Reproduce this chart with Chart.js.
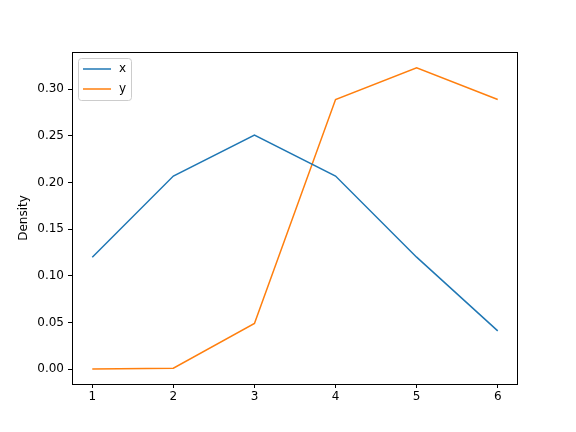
<!DOCTYPE html>
<html>
<head>
<meta charset="utf-8">
<script src="https://cdn.jsdelivr.net/npm/chart.js@4"></script>
<style>
  html, body { margin: 0; padding: 0; background: #fff; }
</style>
</head>
<body>
<canvas id="myChart" width="576" height="432"></canvas>
<script>
var categories = [1, 2, 3, 4, 5, 6];
var xValues = [0.120, 0.207, 0.251, 0.207, 0.120, 0.041];
var yValues = [0.000, 0.001, 0.049, 0.289, 0.323, 0.289];
var yTicks = [0.00, 0.05, 0.10, 0.15, 0.20, 0.25, 0.30];
var xTicks = [1, 2, 3, 4, 5, 6];

var FONT = 'DejaVu Sans';

function toPoints(vals) {
    var pts = [];
    for (var i = 0; i < categories.length; i++) {
        pts.push({x: categories[i], y: vals[i]});
    }
    return pts;
}

// frame around the plot + legend box in upper left
var frameAndLegend = {
    id: 'frameAndLegend',
    afterDraw: function(chart) {
        var ctx = chart.ctx;
        var a = chart.chartArea;
        ctx.save();
        ctx.strokeStyle = '#000';
        ctx.lineWidth = 1;
        ctx.strokeRect(Math.round(a.left) + 0.5, Math.round(a.top) + 0.5,
            Math.round(a.right - a.left) - 1, Math.round(a.bottom - a.top));

        var bx = a.left + 6, by = a.top + 6, bw = 53, bh = 42;
        ctx.fillStyle = 'rgba(255,255,255,0.8)';
        ctx.strokeStyle = '#cccccc';
        ctx.beginPath();
        ctx.roundRect(bx + 0.5, by + 0.5, bw, bh, 3);
        ctx.fill();
        ctx.stroke();

        ctx.font = '12px ' + FONT;
        ctx.textBaseline = 'middle';
        chart.data.datasets.forEach(function(ds, i) {
            var ly = by + 11 + i * 20;
            ctx.strokeStyle = ds.borderColor;
            ctx.lineWidth = 1.5;
            ctx.beginPath();
            ctx.moveTo(bx + 5, ly);
            ctx.lineTo(bx + 33, ly);
            ctx.stroke();
            ctx.fillStyle = '#000';
            ctx.fillText(ds.label, bx + 41, ly);
        });
        ctx.restore();
    }
};

var ctx = document.getElementById('myChart').getContext('2d');
var myChart = new Chart(ctx, {
    type: 'line',
    data: {
        datasets: [
            {
                label: 'x',
                data: toPoints(xValues),
                borderColor: '#1f77b4',
                backgroundColor: '#1f77b4',
                borderWidth: 1.5,
                pointRadius: 0,
                tension: 0
            },
            {
                label: 'y',
                data: toPoints(yValues),
                borderColor: '#ff7f0e',
                backgroundColor: '#ff7f0e',
                borderWidth: 1.5,
                pointRadius: 0,
                tension: 0
            }
        ]
    },
    options: {
        responsive: false,
        animation: false,
        devicePixelRatio: 1,
        layout: { padding: { left: 0, top: 52, right: 58, bottom: 0 } },
        plugins: {
            legend: { display: false },
            tooltip: { enabled: false }
        },
        scales: {
            x: {
                type: 'linear',
                min: 0.75,
                max: 6.25,
                afterFit: function(scale) { scale.height = 48; },
                afterBuildTicks: function(scale) {
                    scale.ticks = xTicks.map(function(v) { return {value: v}; });
                },
                grid: {
                    drawOnChartArea: false,
                    drawTicks: true,
                    tickLength: 4,
                    tickColor: '#000',
                    color: '#000'
                },
                border: { display: false },
                ticks: {
                    color: '#000',
                    font: { family: FONT, size: 12 },
                    padding: 2,
                    maxRotation: 0,
                    callback: function(v) { return String(v); }
                }
            },
            y: {
                type: 'linear',
                min: -0.016,
                max: 0.340,
                afterFit: function(scale) { scale.width = 72; },
                afterBuildTicks: function(scale) {
                    scale.ticks = yTicks.map(function(v) { return {value: v}; });
                },
                title: {
                    display: true,
                    text: 'Density',
                    color: '#000',
                    font: { family: FONT, size: 12 },
                    padding: { top: 17, bottom: 4 }
                },
                grid: {
                    drawOnChartArea: false,
                    drawTicks: true,
                    tickLength: 4,
                    tickColor: '#000',
                    color: '#000'
                },
                border: { display: false },
                ticks: {
                    color: '#000',
                    font: { family: FONT, size: 12 },
                    padding: 4,
                    callback: function(v) { return Number(v).toFixed(2); }
                }
            }
        }
    },
    plugins: [frameAndLegend]
});
</script>
</body>
</html>
